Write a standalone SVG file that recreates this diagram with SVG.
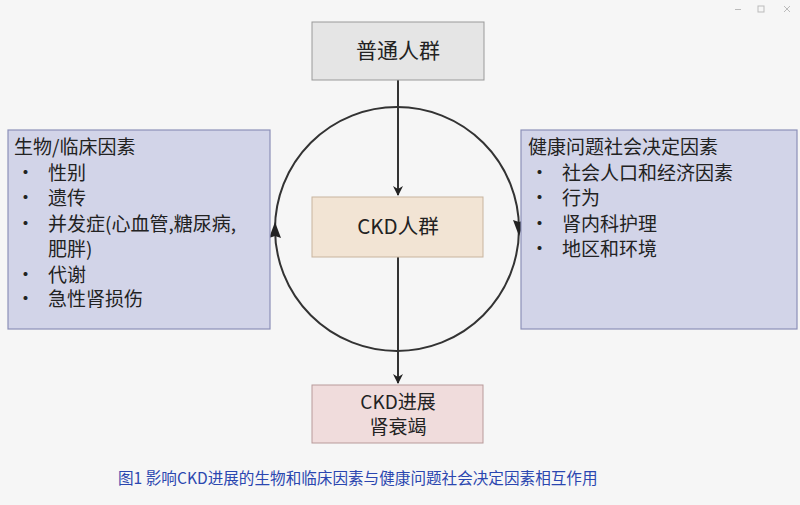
<svg xmlns="http://www.w3.org/2000/svg" width="800" height="505" viewBox="0 0 800 505">
<style>
text{font-family:"Noto Sans CJK SC","Noto Sans",sans-serif;fill:#222}
.b{font-size:19px}
.side{fill:#d2d4e8;stroke:#8c90b8;stroke-width:1.2}
.ln{stroke:#333;stroke-width:2;fill:none}
</style>
<defs>
<marker id="ah" markerWidth="10" markerHeight="10" refX="9" refY="5" orient="auto" markerUnits="userSpaceOnUse"><path d="M0,0 L10,5 L0,10 L3,5 Z" fill="#222"/></marker>
</defs>
<rect width="800" height="505" fill="#f6f6f6"/>
<g id="winctl" stroke="#bbb" stroke-width="1" fill="none"><line x1="735" y1="9.5" x2="741" y2="9.5"/><rect x="758" y="6" width="6" height="6"/><path d="M784,6 l6,6 M790,6 l-6,6"/></g>
<g id="connectors">
<circle class="ln" cx="397" cy="229" r="122"/>
<line class="ln" x1="398" y1="80" x2="398" y2="195" marker-end="url(#ah)"/>
<line class="ln" x1="398" y1="257" x2="398" y2="383" marker-end="url(#ah)"/>
<path d="M519,222 l-6,-2 l6,16 l6,-16 z" fill="#222"/>
<path d="M275,236 l-6,2 l6,-16 l6,16 z" fill="#222"/>
</g>
<g id="n1"><rect x="312" y="22" width="172" height="58" fill="#e5e5e5" stroke="#999"/><text x="398" y="58" text-anchor="middle" font-size="21">普通人群</text></g>
<g id="n2"><rect x="312" y="197" width="171" height="60" fill="#f2e4d4" stroke="#c8b49e"/><text x="398" y="234" text-anchor="middle" font-size="20.5">CKD人群</text></g>
<g id="n3"><rect x="312" y="385" width="171" height="58" fill="#f0dcdc" stroke="#b89a9a"/><text class="b" x="398" y="409" text-anchor="middle">CKD进展</text><text class="b" x="398" y="434" text-anchor="middle">肾衰竭</text></g>
<g id="left"><rect class="side" x="8" y="130" width="262" height="199"/>
<text class="b" x="14" y="154">生物/临床因素</text>
<text class="b" x="16" y="180">•</text><text class="b" x="48" y="180">性别</text>
<text class="b" x="16" y="205">•</text><text class="b" x="48" y="205">遗传</text>
<text class="b" x="16" y="231">•</text><text class="b" x="48" y="231">并发症(心血管,糖尿病,</text>
<text class="b" x="48" y="256">肥胖)</text>
<text class="b" x="16" y="282">•</text><text class="b" x="48" y="282">代谢</text>
<text class="b" x="16" y="306">•</text><text class="b" x="48" y="306">急性肾损伤</text></g>
<g id="right"><rect class="side" x="521" y="130" width="276" height="199"/>
<text class="b" x="528" y="154">健康问题社会决定因素</text>
<text class="b" x="530" y="180">•</text><text class="b" x="562" y="180">社会人口和经济因素</text>
<text class="b" x="530" y="205">•</text><text class="b" x="562" y="205">行为</text>
<text class="b" x="530" y="231">•</text><text class="b" x="562" y="231">肾内科护理</text>
<text class="b" x="530" y="256">•</text><text class="b" x="562" y="256">地区和环境</text></g>
<text x="118" y="484" font-size="15.6" style="fill:#2b47b0">图1 影响CKD进展的生物和临床因素与健康问题社会决定因素相互作用</text>
</svg>
